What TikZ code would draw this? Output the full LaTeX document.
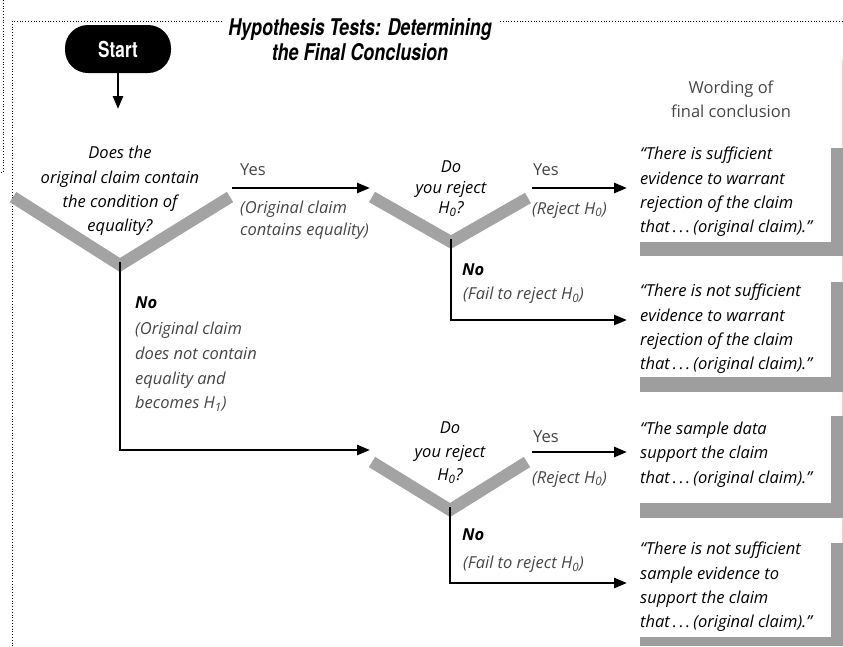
\documentclass[tikz,border=0pt]{standalone}
\usepackage{fontspec}
\setmainfont{Open Sans}
\newfontfamily\titlefont[FakeStretch=0.78]{TeX Gyre Heros}
\usetikzlibrary{arrows.meta}
\definecolor{ygray}{HTML}{A3A3A3}
\definecolor{shgray}{HTML}{9E9E9E}
\definecolor{lblgray}{HTML}{454545}
\newcommand{\Hz}{{\itshape H}\textsubscript{0}}
\newcommand{\Ho}{{\itshape H}\textsubscript{1}}
\newcommand{\orig}{that\hspace{3pt}.\hspace{2.5pt}.\hspace{2.5pt}.\hspace{3pt}(original claim).”}
\tikzset{
  ybar/.style={line width=12pt, draw=ygray, line join=miter},
  flowarrow/.style={line width=2.6pt, line join=miter, -{Triangle[length=13pt,width=10pt]}},
  qtext/.style={align=center, anchor=north, inner sep=0pt, font=\fontsize{16.5}{24.3}\selectfont\itshape},
  lbltext/.style={align=left, anchor=north west, inner sep=0pt, text=lblgray, font=\fontsize{16.5}{23.5}\selectfont},
  notext/.style={align=left, anchor=north west, inner sep=0pt, font=\fontsize{16.5}{24}\selectfont\bfseries\itshape},
  concl/.style={align=left, anchor=north west, inner sep=0pt, font=\fontsize{16.5}{24.2}\selectfont\itshape},
  startbox/.style={fill=black, rounded corners=23pt, minimum width=106pt, minimum height=48pt, text=white, font=\titlefont\fontsize{22}{24}\selectfont\bfseries},
  shadowfill/.style={fill=shgray},
  frameline/.style={dotted, line width=0.8pt}
}
\begin{document}
\begin{tikzpicture}[x=1pt,y=-1pt]
\useasboundingbox (0,0) rectangle (843,646);
% dotted frame
\draw[frameline] (3,0) -- (3,172) -- (0,172);
\draw[frameline] (222,21) -- (12,21) -- (12,646);
\draw[frameline] (500,21) -- (843,21);
\draw[red!20, line width=0.6pt] (842.5,60) -- (842.5,646);
% title
\node[align=center, font=\titlefont\fontsize{23}{25}\selectfont\bfseries\itshape] (title) at (360,40) {Hypothesis Tests: Determining\\the Final Conclusion};
% start
\node[startbox] (start) at (118,49) {Start};
\coordinate (q1top) at (118,109);
\draw[flowarrow] (start.south) -- (q1top);
% column heading
\node[lbltext, align=center, anchor=north] (wording) at (731,81) {Wording of\\final conclusion};

% first decision
\coordinate (y1l) at (13,197);
\coordinate (y1v) at (120,265);
\coordinate (y1r) at (230,197);
\draw[ybar] (y1l) -- (y1v) -- (y1r);
\node[qtext] (q1) at (120,146) {Does the\\original claim contain\\the condition of\\equality?};
\coordinate (a1s) at (232,188);
\coordinate (a1e) at (370,188);
\draw[flowarrow] (a1s) -- (a1e);
\node[lbltext] (yes1) at (240,164) {Yes};
\node[lbltext, font=\fontsize{16.5}{21.5}\selectfont\itshape] (lab1) at (240,201) {(Original claim\\contains equality)};
\coordinate (b1c) at (120,450);
\coordinate (b1e) at (370,450);
\draw[flowarrow] ([yshift=3pt]y1v) -- (b1c) -- (b1e);
\node[notext] (no1) at (135,297) {No};
\node[lbltext, font=\fontsize{16.5}{24.7}\selectfont\itshape] (lab2) at (135,322) {(Original claim\\does \textit{not} contain\\equality and\\becomes \Ho)};

% second decision
\coordinate (y2l) at (372,197);
\coordinate (y2v) at (451,242);
\coordinate (y2r) at (528,198);
\draw[ybar] (y2l) -- (y2v) -- (y2r);
\node[qtext, font=\fontsize{16.5}{20.5}\selectfont\itshape] (q2) at (451,161) {Do\\you reject\\\Hz?};
\coordinate (a2s) at (532,188);
\coordinate (a2e) at (627,188);
\draw[flowarrow] (a2s) -- (a2e);
\node[lbltext] (yes2) at (533,164) {Yes};
\node[lbltext, font=\fontsize{16.5}{22}\selectfont\itshape] (lab3) at (532,202) {(Reject \Hz)};
\coordinate (b2c) at (451,320);
\coordinate (b2e) at (627,320);
\draw[flowarrow] ([yshift=3pt]y2v) -- (b2c) -- (b2e);
\node[notext] (no2) at (462,264) {No};
\node[lbltext, font=\fontsize{16.5}{22}\selectfont\itshape] (lab4) at (463,287) {(Fail to reject \Hz)};

% third decision
\coordinate (y3l) at (372,462);
\coordinate (y3v) at (450,510);
\coordinate (y3r) at (527,462);
\draw[ybar] (y3l) -- (y3v) -- (y3r);
\node[qtext, font=\fontsize{16.5}{23.5}\selectfont\itshape] (q3) at (450,422) {Do\\you reject\\\Hz?};
\coordinate (a3s) at (532,452);
\coordinate (a3e) at (627,452);
\draw[flowarrow] (a3s) -- (a3e);
\node[lbltext] (yes3) at (533,431) {Yes};
\node[lbltext, font=\fontsize{16.5}{22}\selectfont\itshape] (lab5) at (532,471) {(Reject \Hz)};
\coordinate (b3c) at (450,583);
\coordinate (b3e) at (627,583);
\draw[flowarrow] ([yshift=3pt]y3v) -- (b3c) -- (b3e);
\node[notext] (no3) at (462,529) {No};
\node[lbltext, font=\fontsize{16.5}{22}\selectfont\itshape] (lab6) at (463,556) {(Fail to reject \Hz)};

% conclusion shadows
\fill[shadowfill] (831,148) rectangle (843,256);
\fill[shadowfill] (640,242) rectangle (843,256);
\fill[shadowfill] (831,282) rectangle (843,392);
\fill[shadowfill] (640,377) rectangle (843,392);
\fill[shadowfill] (831,416) rectangle (843,518);
\fill[shadowfill] (640,503) rectangle (843,518);
\fill[shadowfill] (831,543) rectangle (843,646);
\fill[shadowfill] (640,637) rectangle (843,646);
% conclusions
\node[concl] (c1) at (640,147) {“There is sufficient\\evidence to warrant\\rejection of the claim\\\orig};
\node[concl] (c2) at (640,284) {“There is not sufficient\\evidence to warrant\\rejection of the claim\\\orig};
\node[concl] (c3) at (640,422) {“The sample data\\support the claim\\\orig};
\node[concl] (c4) at (640,542) {“There is not sufficient\\sample evidence to\\support the claim\\\orig};
\end{tikzpicture}
\end{document}
